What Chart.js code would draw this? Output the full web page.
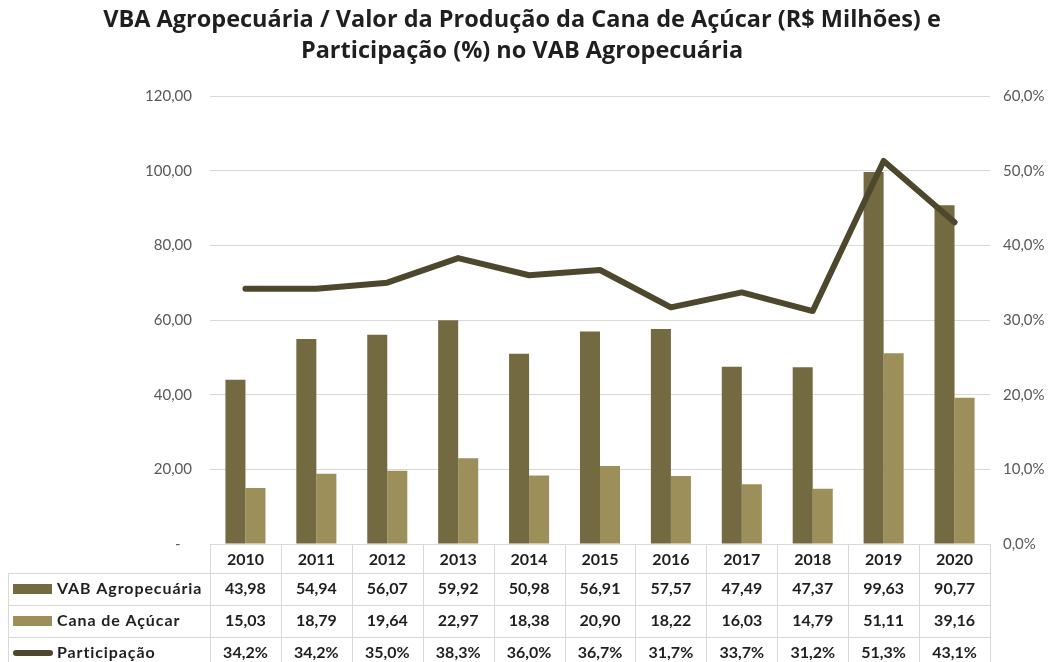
<!DOCTYPE html>
<html><head><meta charset="utf-8">
<script src="https://cdn.jsdelivr.net/npm/chart.js@4.4.0/dist/chart.umd.min.js"></script>
<style>html,body{margin:0;padding:0;background:#fff}canvas{display:block}</style>
</head><body>
<canvas id="c" width="1058" height="662"></canvas>
<script>
const categories = ['2010','2011','2012','2013','2014','2015','2016','2017','2018','2019','2020'];
const vabAgro = [43.98,54.94,56.07,59.92,50.98,56.91,57.57,47.49,47.37,99.63,90.77];
const canaAcucar = [15.03,18.79,19.64,22.97,18.38,20.90,18.22,16.03,14.79,51.11,39.16];
const participacao = [34.2,34.2,35.0,38.3,36.0,36.7,31.7,33.7,31.2,51.3,43.1];
const leftTickLabels = ['-   ','20,00','40,00','60,00','80,00','100,00','120,00'];
const rightTickLabels = ['0,0%','10,0%','20,0%','30,0%','40,0%','50,0%','60,0%'];
const seriesNames = ['VAB Agropecuária','Cana de Açúcar','Participação'];
const titleLines = ['VBA Agropecuária / Valor da Produção da Cana de Açúcar (R$ Milhões) e','Participação (%) no VAB Agropecuária'];

const COL_DARK = '#746a42', COL_LIGHT = '#9d8f59', COL_LINE = '#4d482d';
const GRID = '#d9d9d9';
const FONT = 'Lato, "Open Sans", sans-serif';
const TITLE_FONT = '"Open Sans", Lato, sans-serif';

const fmt2 = v => v.toFixed(2).replace('.', ',');
const fmtPct = v => v.toFixed(1).replace('.', ',') + '%';

const tablePlugin = {
  id: 'dataTable',
  afterDraw(chart) {
    const ctx = chart.ctx;
    const xs = chart.scales.x;
    const area = chart.chartArea;
    const n = categories.length;
    const cw = (area.right - area.left) / n;
    const top = area.bottom;
    const headerH = 29, rowH = 32;
    const leftX = 8;
    const rowTops = [top + headerH, top + headerH + rowH, top + headerH + 2 * rowH];
    const bottom = top + headerH + 3 * rowH;
    ctx.save();
    ctx.strokeStyle = GRID;
    ctx.lineWidth = 1;
    ctx.beginPath();
    ctx.moveTo(area.left, top + 0.5); ctx.lineTo(area.right, top + 0.5);
    rowTops.forEach(y => { ctx.moveTo(leftX, Math.round(y) + 0.5); ctx.lineTo(area.right, Math.round(y) + 0.5); });
    ctx.moveTo(leftX, bottom + 0.5); ctx.lineTo(area.right, bottom + 0.5);
    for (let i = 0; i <= n; i++) {
      const x = Math.round(area.left + i * cw) + 0.5;
      ctx.moveTo(x, top); ctx.lineTo(x, bottom);
    }
    ctx.moveTo(leftX + 0.5, rowTops[0]); ctx.lineTo(leftX + 0.5, bottom);
    ctx.stroke();

    ctx.fillStyle = '#1f1f1f';
    ctx.font = 'bold 16px ' + FONT;
    ctx.textAlign = 'center';
    ctx.textBaseline = 'middle';
    categories.forEach((c, i) => {
      const x = xs.getPixelForValue(i);
      ctx.fillText(c, x, top + headerH / 2 + 1);
      ctx.fillText(fmt2(vabAgro[i]), x, rowTops[0] + rowH / 2);
      ctx.fillText(fmt2(canaAcucar[i]), x, rowTops[1] + rowH / 2);
      ctx.fillText(fmtPct(participacao[i]), x, rowTops[2] + rowH / 2);
    });
    ctx.fillStyle = COL_DARK;
    ctx.fillRect(13, rowTops[0] + rowH / 2 - 5, 39, 10);
    ctx.fillStyle = COL_LIGHT;
    ctx.fillRect(13, rowTops[1] + rowH / 2 - 5, 39, 10);
    ctx.strokeStyle = COL_LINE;
    ctx.lineWidth = 6;
    ctx.lineCap = 'round';
    ctx.beginPath();
    ctx.moveTo(16, rowTops[2] + rowH / 2); ctx.lineTo(50, rowTops[2] + rowH / 2);
    ctx.stroke();
    ctx.fillStyle = '#1f1f1f';
    ctx.textAlign = 'left';
    ctx.letterSpacing = '0.9px';
    seriesNames.forEach((s, k) => ctx.fillText(s, 57, rowTops[k] + rowH / 2));
    ctx.restore();
  }
};

new Chart(document.getElementById('c'), {
  data: {
    labels: categories,
    datasets: [
      { type: 'line', label: seriesNames[2], data: participacao, yAxisID: 'y2', order: 0,
        borderColor: COL_LINE, backgroundColor: COL_LINE, borderWidth: 6, pointRadius: 0,
        tension: 0, borderCapStyle: 'round', borderJoinStyle: 'round' },
      { type: 'bar', label: seriesNames[0], data: vabAgro, yAxisID: 'y', order: 1,
        backgroundColor: COL_DARK, barPercentage: 1, categoryPercentage: 0.565 },
      { type: 'bar', label: seriesNames[1], data: canaAcucar, yAxisID: 'y', order: 1,
        backgroundColor: COL_LIGHT, barPercentage: 1, categoryPercentage: 0.565 }
    ]
  },
  options: {
    responsive: false,
    animation: false,
    devicePixelRatio: 1,
    layout: { padding: { top: 0, right: 14, bottom: 118, left: 0 }, autoPadding: false },
    plugins: {
      legend: { display: false },
      tooltip: { enabled: false },
      title: {
        display: true, text: titleLines, color: '#1f1f1f',
        font: { family: TITLE_FONT, size: 23.5, weight: 'bold', lineHeight: 1.32 },
        padding: { top: 5, bottom: 29 }
      }
    },
    scales: {
      x: { display: false },
      y: {
        position: 'left', min: 0, max: 120,
        ticks: { stepSize: 20, color: '#595959', font: { family: FONT, size: 15 }, padding: 18,
          callback: (v, i) => leftTickLabels[i] },
        grid: { color: GRID, drawTicks: false },
        border: { display: false },
        afterFit: s => { s.width = 210; }
      },
      y2: {
        position: 'right', min: 0, max: 60,
        ticks: { stepSize: 10, color: '#595959', font: { family: FONT, size: 15 }, padding: 13,
          callback: (v, i) => rightTickLabels[i] },
        grid: { drawOnChartArea: false, drawTicks: false },
        border: { display: false },
        afterFit: s => { s.width = 54; }
      }
    }
  },
  plugins: [tablePlugin]
});
</script>
</body></html>
